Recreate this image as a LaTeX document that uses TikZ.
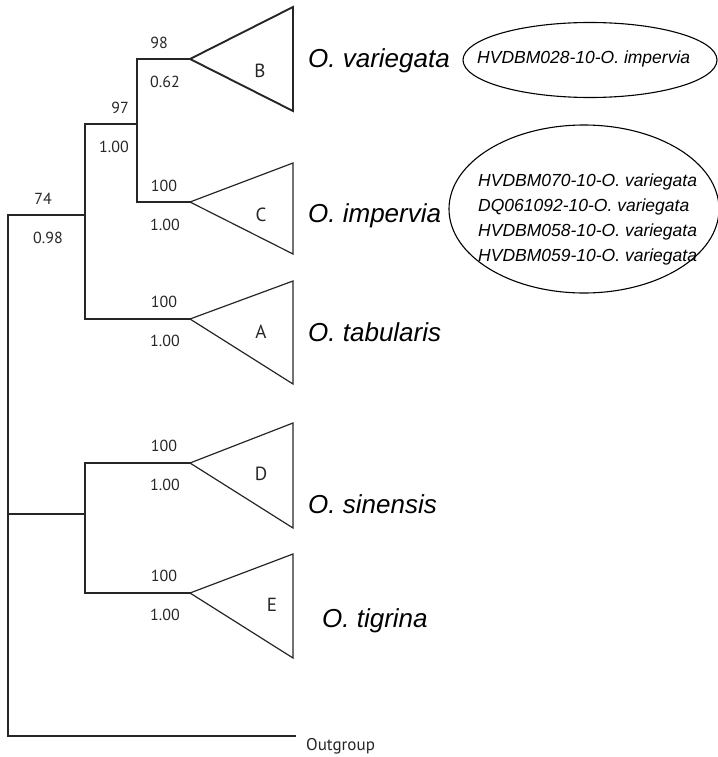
\documentclass[tikz,border=0pt]{standalone}
\usepackage{fontspec}
\setmainfont{PT Sans}
\newfontfamily\spfont{Liberation Sans}
\usetikzlibrary{shapes.geometric}

\tikzstyle{eS}=[line width=1.2pt,line cap=rect,draw=black!85]
\tikzstyle{eB}=[line width=1.9pt,line cap=rect,draw=black!85]
\tikzstyle{tS}=[line width=1.2pt,line join=miter,draw=black!85]
\tikzstyle{tB}=[line width=1.9pt,line join=miter,draw=black!85]
\tikzstyle{nNS}=[inner sep=0pt,font=\fontsize{16}{16}\selectfont,text=black!85]
\tikzstyle{cN}=[inner sep=0pt,font=\fontsize{19}{19}\selectfont,text=black!85]
\tikzstyle{spN}=[inner sep=0pt,anchor=west,font=\spfont\itshape\fontsize{26}{26}\selectfont]
\tikzstyle{elS}=[ellipse,draw,line width=1.1pt,inner sep=0pt]
\tikzstyle{elT}=[inner sep=0pt,anchor=west,align=left,font=\spfont\itshape\fontsize{17.5}{25}\selectfont]

\begin{document}
\begin{tikzpicture}[x=1pt,y=-1pt]
                \useasboundingbox (0,0) rectangle (717,757);
                % tips and joints
                \coordinate (tB) at (190,59);
                \coordinate (tC) at (190,202);
                \coordinate (tA) at (190,319);
                \coordinate (tD) at (190,463);
                \coordinate (tE) at (190,593);
                \coordinate (tO) at (295,736);
                \coordinate (nBC) at (137,124);
                \coordinate (nI) at (85,215);
                \coordinate (nDE) at (85,514);
                \coordinate (nR) at (8,514);
                % branches
                \draw[eB] (tB) -| (nBC) -- (nBC |- tC);
                \draw[eS] (nBC |- tC) -- (tC);
                \draw[eS] (nBC) -| (nI) |- (tA);
                \draw[eS] (nI) -| (nR) |- (tO);
                \draw[eS] (nR) -- (nDE);
                \draw[eS] (tD) -| (nDE) |- (tE);
                % collapsed clades
                \draw[tB] (tB) -- ++(103,-52) -- ++(0,104) -- cycle;
                \draw[tS] (tC) -- ++(103,-39) -- ++(0,91) -- cycle;
                \draw[tS] (tA) -- ++(103,-38) -- ++(0,103) -- cycle;
                \draw[tS] (tD) -- ++(103,-40) -- ++(0,105) -- cycle;
                \draw[tS] (tE) -- ++(103,-39) -- ++(0,104) -- cycle;
                \node[cN] (lB) at (260,71) {B};
                \node[cN] (lC) at (261,215) {C};
                \node[cN] (lA) at (261,332) {A};
                \node[cN] (lD) at (261,474) {D};
                \node[cN] (lE) at (272,605) {E};
                % support values
                \node[nNS] (s98) at (159,43) {98};
                \node[nNS] (p98) at (165,82) {0.62};
                \node[nNS] (s97) at (120,108) {97};
                \node[nNS] (p97) at (114,147) {1.00};
                \node[nNS] (s74) at (43,199) {74};
                \node[nNS] (p74) at (48,238) {0.98};
                \node[nNS] (sC) at (164,186) {100};
                \node[nNS] (pC) at (165,225) {1.00};
                \node[nNS] (sA) at (164,302) {100};
                \node[nNS] (pA) at (165,341) {1.00};
                \node[nNS] (sD) at (164,446) {100};
                \node[nNS] (pD) at (165,485) {1.00};
                \node[nNS] (sE) at (164,576) {100};
                \node[nNS] (pE) at (165,615) {1.00};
                % species
                \node[spN] (vB) at (308,61) {O. variegata};
                \node[spN] (vC) at (308,216) {O. impervia};
                \node[spN] (vA) at (308,332) {O. tabularis};
                \node[spN] (vD) at (308,504) {O. sinensis};
                \node[spN] (vE) at (322,621) {O. tigrina};
                \node[nNS,anchor=west,font=\fontsize{17}{17}\selectfont] (vO) at (306,746) {Outgroup};
                % mislabelled samples
                \node[elS,minimum width=254pt,minimum height=75pt] (e1) at (590,60) {};
                \node[elT] (t1) at (477,59) {HVDBM028-10-O. impervia};
                \node[elS,minimum width=270pt,minimum height=168pt] (e2) at (584,209) {};
                \node[elT] (t2) at (478,219.5) {HVDBM070-10-O. variegata\\DQ061092-10-O. variegata\\HVDBM058-10-O. variegata\\HVDBM059-10-O. variegata};
        \end{tikzpicture}
\end{document}
